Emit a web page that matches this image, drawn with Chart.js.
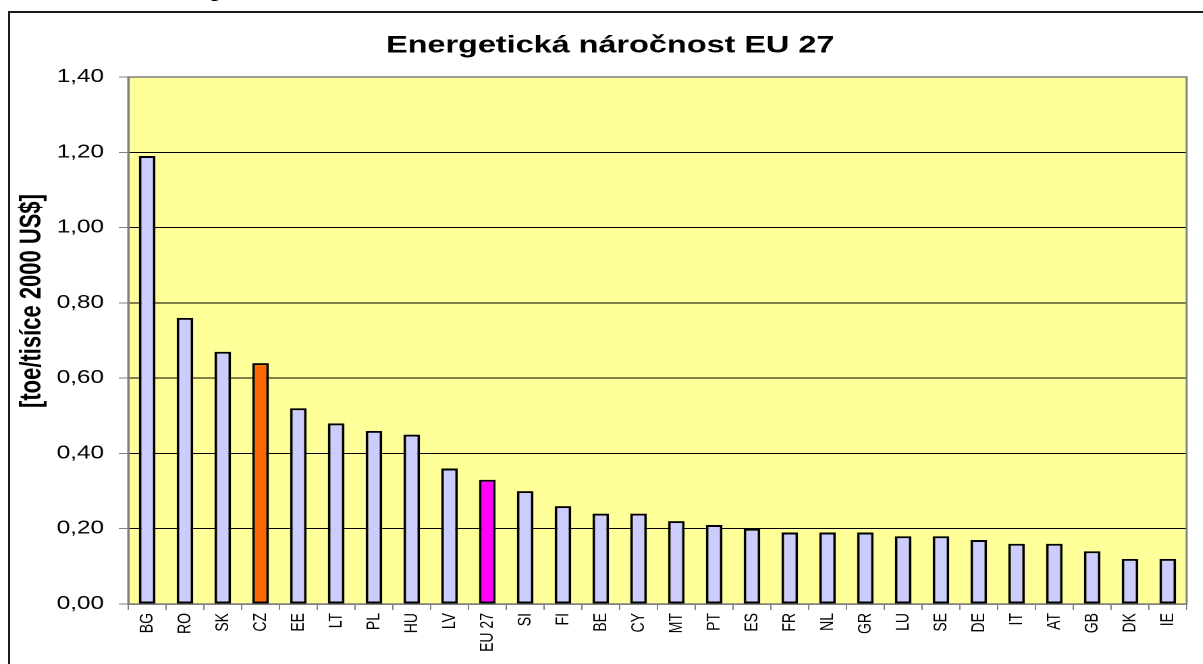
<!DOCTYPE html>
<html>
<head>
<meta charset="utf-8">
<script src="https://cdn.jsdelivr.net/npm/chart.js@4"></script>
<style>
    html, body { margin: 0; padding: 0; background: #fff; }
    body { width: 1203px; height: 664px; overflow: hidden; position: relative; }
    .frame { position: absolute; left: 8px; top: 11px; width: 1300px; height: 800px; border: 2px solid #1a1a1a; }
    .cut { position: absolute; left: 210px; top: -21px; font: bold 20px "Liberation Serif", serif; line-height: 20px; color: #000; }
    .wrap { position: absolute; left: 0; top: 0; width: 891px; height: 664px; transform: scaleX(1.35); transform-origin: 0 0; }
</style>
</head>
<body>
<div class="cut">g</div>
<div class="frame"></div>
<div class="wrap"><canvas id="chart" width="891" height="664" style="width:891px;height:664px"></canvas></div>
<script>
document.addEventListener("DOMContentLoaded", () => {
    const countries = ["BG", "RO", "SK", "CZ", "EE", "LT", "PL", "HU", "LV", "EU 27", "SI", "FI", "BE", "CY",
        "MT", "PT", "ES", "FR", "NL", "GR", "LU", "SE", "DE", "IT", "AT", "GB", "DK", "IE"];
    const intensity = [1.19, 0.76, 0.67, 0.64, 0.52, 0.48, 0.46, 0.45, 0.36, 0.33, 0.30, 0.26, 0.24, 0.24,
        0.22, 0.21, 0.20, 0.19, 0.19, 0.19, 0.18, 0.18, 0.17, 0.16, 0.16, 0.14, 0.12, 0.12];
    const yTicks = [0, 0.2, 0.4, 0.6, 0.8, 1.0, 1.2, 1.4];

    const chartTitle = "Energetická náročnost EU 27";
    const yTitle = "[toe/tisíce 2000 US$]";

    // pick bar colour: Czech Republic orange, EU average magenta
    function barColor(name) {
        if (name === "CZ") return "#FF6600";
        if (name === "EU 27") return "#FF00FF";
        return "#CCCCFF";
    }

    // plot background, frame and free-standing texts
    const decor = {
        id: "decor",
        beforeDraw(chart) {
            const { ctx, chartArea: a } = chart;
            ctx.save();
            ctx.fillStyle = "#FFFF99";
            ctx.fillRect(a.left, a.top, a.right - a.left, a.bottom - a.top);
            ctx.restore();
        },
        beforeDatasetsDraw(chart) {
            const { ctx, chartArea: a } = chart;
            ctx.save();
            ctx.strokeStyle = "#808080";
            ctx.lineWidth = 1.5;
            ctx.strokeRect(a.left, a.top, a.right - a.left, a.bottom - a.top);
            ctx.restore();
        },
        afterDraw(chart) {
            const ctx = chart.ctx;
            ctx.save();
            ctx.fillStyle = "#000";
            ctx.font = "bold 24px Arial, 'Liberation Sans', sans-serif";
            ctx.textAlign = "center";
            ctx.textBaseline = "middle";
            ctx.fillText(chartTitle, 452, 46);

            ctx.translate(24, 301);
            ctx.rotate(-Math.PI / 2);
            ctx.font = "bold 22px Arial, 'Liberation Sans', sans-serif";
            ctx.fillText(yTitle, 0, 0);
            ctx.restore();
        }
    };

    const ctx = document.getElementById("chart").getContext("2d");

    new Chart(ctx, {
        type: "bar",
        data: {
            labels: countries,
            datasets: [{
                data: intensity,
                backgroundColor: countries.map(barColor),
                borderColor: "#000",
                borderWidth: 2,
                borderSkipped: false,
                barPercentage: 0.44,
                categoryPercentage: 1,
            }],
        },
        options: {
            responsive: false,
            animation: false,
            devicePixelRatio: 2,
            layout: { padding: { left: 0, top: 77, right: 12, bottom: 0 } },
            plugins: {
                legend: { display: false },
                tooltip: { enabled: false },
            },
            scales: {
                x: {
                    afterFit(scale) { scale.height = 60; },
                    grid: {
                        drawOnChartArea: false,
                        drawTicks: true,
                        tickLength: 6,
                        tickColor: "#808080",
                    },
                    border: { color: "#808080", width: 1.5 },
                    ticks: {
                        minRotation: 90,
                        maxRotation: 90,
                        autoSkip: false,
                        padding: 3,
                        color: "#000",
                        font: { family: "Arial, 'Liberation Sans', sans-serif", size: 14 },
                    },
                },
                y: {
                    min: 0,
                    max: 1.4,
                    afterFit(scale) { scale.width = 95; },
                    afterBuildTicks(scale) { scale.ticks = yTicks.map(v => ({ value: v })); },
                    grid: {
                        color: "#000",
                        lineWidth: 1,
                        tickLength: 7,
                        tickColor: "#808080",
                    },
                    border: { color: "#808080", width: 1.5 },
                    ticks: {
                        padding: 11,
                        color: "#000",
                        font: { family: "Arial, 'Liberation Sans', sans-serif", size: 18 },
                        callback: (v) => v.toFixed(2).replace(".", ","),
                    },
                },
            },
        },
        plugins: [decor],
    });
});
</script>
</body>
</html>
